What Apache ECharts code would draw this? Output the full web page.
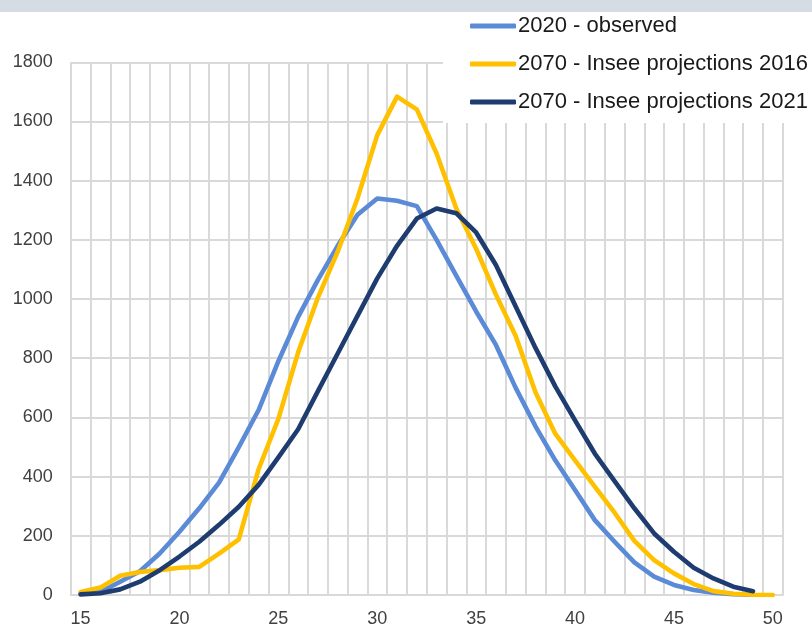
<!DOCTYPE html>
<html>
<head>
<meta charset="utf-8">
<script src="https://cdn.jsdelivr.net/npm/echarts@6/dist/echarts.min.js"></script>
<style>html,body{margin:0;padding:0;background:#fff;}#c{width:812px;height:628px;}</style>
</head>
<body>
<div id="c"></div>
<script>
const ages = [15,16,17,18,19,20,21,22,23,24,25,26,27,28,29,30,31,32,33,34,35,36,37,38,39,40,41,42,43,44,45,46,47,48,49,50];
const seriesNames = ['2020 - observed', '2070 - Insee projections 2016', '2070 - Insee projections 2021'];
const observed2020 = [5,10,45,80,140,214,293,380,500,625,790,940,1065,1180,1285,1340,1332,1314,1200,1078,958,845,700,570,455,355,253,180,110,62,34,17,8,3,1,null];
const proj2016 = [10,25,65,78,84,92,95,140,188,425,595,820,1005,1160,1340,1554,1684,1641,1492,1305,1170,1015,875,685,545,455,366,278,183,118,73,37,13,4,1,0];
const proj2021 = [2,6,19,45,84,130,180,237,298,372,465,560,689,816,943,1070,1180,1272,1306,1290,1225,1115,975,835,705,590,478,385,293,208,146,92,56,28,13,null];
const yTicks = {min: 0, max: 1800, interval: 200};

const colors = ['#5b8bd6', '#ffc000', '#1f3c70'];
const chart = echarts.init(document.getElementById('c'), null, {renderer: 'canvas'});
const font = 'Liberation Sans, Arial, sans-serif';
const mk = (name, data, color) => ({
  name, type: 'line', data, symbol: 'none', smooth: false,
  lineStyle: {color, width: 4.6, cap: 'round', join: 'round'},
  itemStyle: {color}, connectNulls: false, animation: false
});
chart.setOption({
  animation: false,
  backgroundColor: '#ffffff',
  graphic: [{type: 'rect', shape: {x: 0, y: 0, width: 812, height: 12}, style: {fill: '#d6dce4'}, z: 100}],
  grid: {left: 70.7, right: 29.3, top: 62.3, bottom: 33, containLabel: false},
  legend: {
    orient: 'vertical', left: 443, top: 12,
    padding: [3, 10, 10, 27],
    backgroundColor: '#ffffff',
    itemWidth: 46, itemHeight: 5, itemGap: 16,
    icon: 'roundRect',
    textStyle: {fontFamily: font, fontSize: 22, color: '#1a1a1a', lineHeight: 20, padding: [0, 0, 0, -3]},
    data: seriesNames, z: 50
  },
  xAxis: {
    type: 'category', data: ages, boundaryGap: true,
    axisLine: {show: true, lineStyle: {color: '#d9d9d9', width: 2}},
    axisTick: {show: false},
    axisLabel: {interval: 4, fontFamily: font, fontSize: 18, color: '#404040', margin: 15},
    splitLine: {show: true, interval: 0, lineStyle: {color: '#d9d9d9', width: 2}}
  },
  yAxis: {
    type: 'value', min: yTicks.min, max: yTicks.max, interval: yTicks.interval,
    axisLine: {show: false}, axisTick: {show: false},
    axisLabel: {fontFamily: font, fontSize: 18, color: '#404040', margin: 18, formatter: v => String(v)},
    splitLine: {show: true, lineStyle: {color: '#d9d9d9', width: 2}}
  },
  series: [
    mk(seriesNames[0], observed2020, colors[0]),
    mk(seriesNames[1], proj2016, colors[1]),
    mk(seriesNames[2], proj2021, colors[2])
  ]
});
</script>
</body>
</html>
